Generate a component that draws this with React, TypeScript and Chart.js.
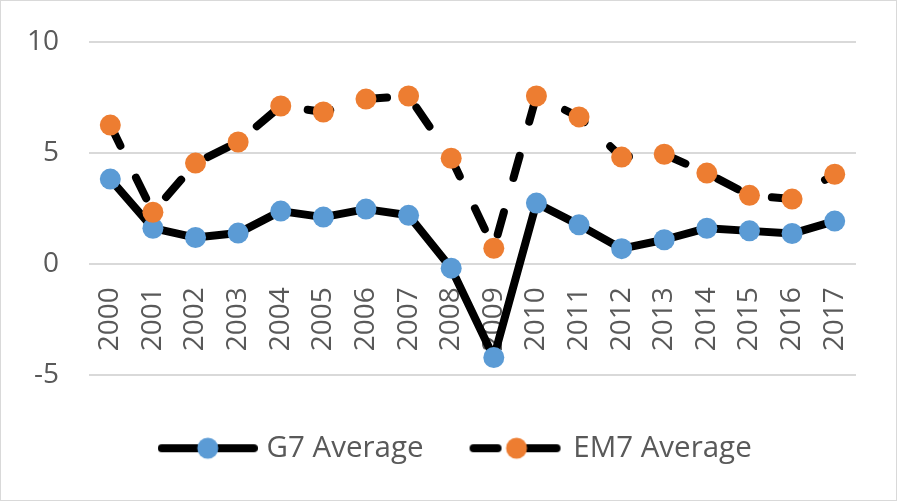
import React, { useEffect, useRef } from "react";
import { Chart, registerables } from "chart.js";

Chart.register(...registerables);

const years = ["2000","2001","2002","2003","2004","2005","2006","2007","2008","2009","2010","2011","2012","2013","2014","2015","2016","2017"];
const g7Average = [3.83, 1.62, 1.2, 1.4, 2.39, 2.12, 2.48, 2.2, -0.18, -4.2, 2.75, 1.77, 0.7, 1.1, 1.62, 1.5, 1.38, 1.94];
const em7Average = [6.26, 2.34, 4.55, 5.5, 7.12, 6.85, 7.43, 7.57, 4.77, 0.72, 7.57, 6.63, 4.82, 4.95, 4.1, 3.1, 2.93, 4.05];
const seriesNames = ["G7 Average", "EM7 Average"];
const yMin = -5;
const yMax = 10;
const yStep = 5;

const BLUE = "#5B9BD5";
const ORANGE = "#ED7D31";
const TEXT = "#595959";
const GRID = "#D9D9D9";
const FONT = "'Open Sans', sans-serif";

function legendSymbol(color: string, dashed: boolean): HTMLCanvasElement {
  const c = document.createElement("canvas");
  c.width = 100;
  c.height = 24;
  const ctx = c.getContext("2d")!;
  ctx.strokeStyle = "#000";
  ctx.lineWidth = 8;
  ctx.lineCap = "round";
  ctx.beginPath();
  let cx = 50;
  if (dashed) {
    ctx.moveTo(9, 12); ctx.lineTo(33, 12);
    ctx.moveTo(61, 12); ctx.lineTo(92, 12);
    cx = 52;
  } else {
    ctx.moveTo(4, 12); ctx.lineTo(96, 12);
  }
  ctx.stroke();
  ctx.fillStyle = color;
  ctx.beginPath();
  ctx.arc(cx, 12, 10.5, 0, Math.PI * 2);
  ctx.fill();
  return c;
}

export default function App() {
  const ref = useRef<HTMLCanvasElement>(null);
  useEffect(() => {
    if (!ref.current) return;
    const symG7 = legendSymbol(BLUE, false);
    const symEM7 = legendSymbol(ORANGE, true);
    const chart = new Chart(ref.current, {
      type: "line",
      data: {
        labels: years,
        datasets: [
          {
            label: seriesNames[0],
            data: g7Average,
            borderColor: "#000",
            borderWidth: 8,
            borderCapStyle: "round",
            borderJoinStyle: "round",
            pointRadius: 10.5,
            pointHoverRadius: 10.5,
            pointBackgroundColor: BLUE,
            pointBorderColor: BLUE,
            pointBorderWidth: 0,
            tension: 0,
            fill: false,
            order: 2,
          },
          {
            label: seriesNames[1],
            data: em7Average,
            borderColor: "#000",
            borderWidth: 8,
            borderDash: [23, 35.5],
            borderCapStyle: "round",
            borderJoinStyle: "round",
            pointRadius: 10.5,
            pointHoverRadius: 10.5,
            pointBackgroundColor: ORANGE,
            pointBorderColor: ORANGE,
            pointBorderWidth: 0,
            tension: 0,
            fill: false,
            order: 1,
          },
        ],
      },
      options: {
        responsive: false,
        animation: false,
        layout: { padding: { left: 58.5, right: 40, top: 41, bottom: 27 } },
        plugins: {
          tooltip: { enabled: false },
          legend: {
            position: "bottom",
            title: { display: true, text: "", padding: { top: 10, bottom: 0 }, font: { size: 1 } },
            labels: {
              usePointStyle: true,
              pointStyleWidth: 88,
              padding: 47,
              color: TEXT,
              font: { family: FONT, size: 29.5 },
              generateLabels: () => [
                { text: seriesNames[0], pointStyle: symG7, fontColor: TEXT, datasetIndex: 0, hidden: false, lineWidth: 0 } as any,
                { text: seriesNames[1], pointStyle: symEM7, fontColor: TEXT, datasetIndex: 1, hidden: false, lineWidth: 0 } as any,
              ],
            },
          },
        },
        scales: {
          x: {
            type: "category",
            offset: true,
            position: { y: 0 } as any,
            grid: { display: false, drawTicks: false },
            border: { display: false },
            ticks: {
              autoSkip: false,
              minRotation: 90,
              maxRotation: 90,
              padding: 23,
              color: TEXT,
              font: { family: FONT, size: 28 },
            },
          },
          y: {
            min: yMin,
            max: yMax,
            afterFit: (scale: any) => {
              scale.width = 29.5;
            },
            grid: { color: GRID, lineWidth: 2, drawTicks: false },
            border: { display: false },
            ticks: {
              stepSize: yStep,
              mirror: true,
              crossAlign: "far",
              padding: -62,
              color: TEXT,
              font: { family: FONT, size: 28 },
            },
          },
        },
      },
    });
    return () => chart.destroy();
  }, []);
  return (
    <div
      style={{
        position: "absolute",
        left: 0,
        top: 0,
        width: 897,
        height: 501,
        boxSizing: "border-box",
        border: "1px solid #D9D9D9",
        background: "#fff",
      }}
    >
      <canvas ref={ref} width={895} height={499} style={{ display: "block" }} />
    </div>
  );
}
